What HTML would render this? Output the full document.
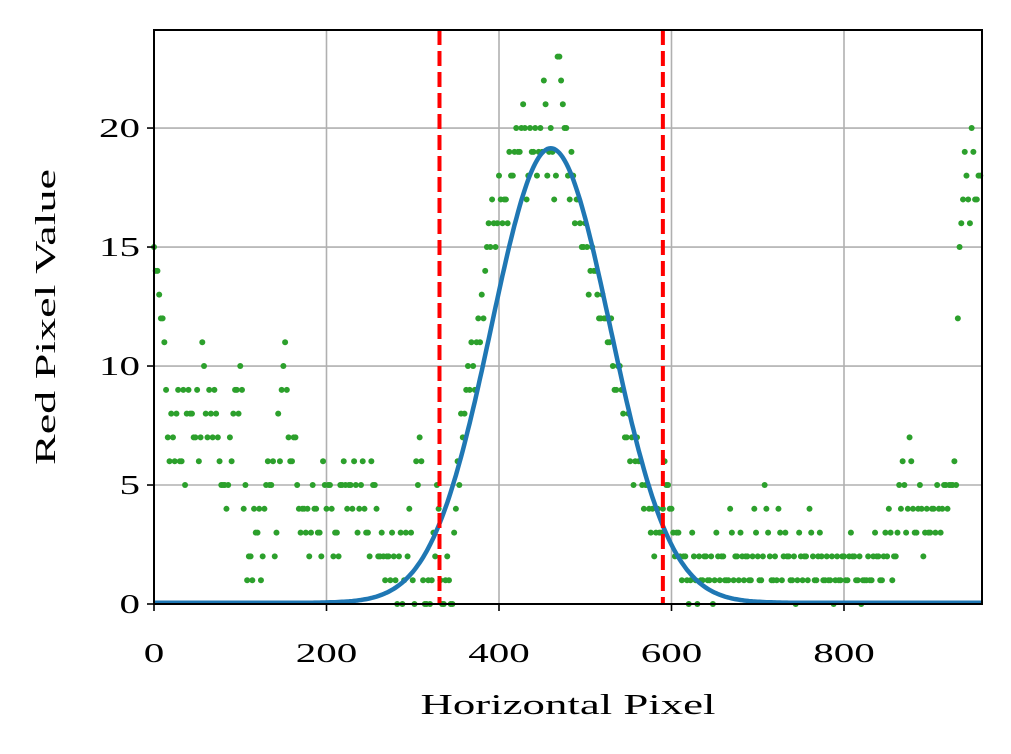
<!DOCTYPE html>
<html><head><meta charset="utf-8"><style>
body{margin:0;background:#fff}
svg{display:block}
text{font-family:"Liberation Serif",serif;fill:#000}
</style></head><body>
<svg id="chart" width="1011" height="754" viewBox="0 0 1011 754" xmlns="http://www.w3.org/2000/svg">
<g id="grid"></g>
<g id="pts"></g>
<g id="lines"></g>
<rect x="154" y="30" width="828" height="574" fill="none" stroke="#000" stroke-width="2"/>
<g id="ticks"></g>
<text x="568" y="714" font-size="28" text-anchor="middle" textLength="295" lengthAdjust="spacingAndGlyphs">Horizontal Pixel</text>
<text transform="translate(55,317) rotate(-90)" font-size="28" text-anchor="middle" textLength="296" lengthAdjust="spacingAndGlyphs">Red Pixel Value</text>
</svg>
<script>
const xTicks=[0,200,400,600,800];
const yTicks=[0,5,10,15,20];
const step=4;
const values=[15,14,12,11,7,8,6,9,6,5, 9,8,7,6,11,8,9,7,8,6, 5,4,7,8,9,10,4,1,2,4, 3,1,4,6,5,2,8,9,11,7,
6,7,4,4,3,2,5,4,3,6, 4,5,2,3,5,6,4,5,6,3, 5,4,3,6,5,2,3,1,2,3, 1,2,0,3,4,1,6,7,1,0,
0,3,5,1,0,2,0,3,6,8, 8,10,11,9,12,13,14,16,17,15, 18,16,17,19,18,20,19,21,17,20, 19,18,20,22,18,20,17,23,22,20,
18,19,16,17,15,16,13,15,14,12, 13,12,11,10,9,10,8,7,6,5, 7,6,4,5,3,2,4,3,6,5, 4,2,3,1,2,0,3,1,2,1,
2,1,0,3,1,2,1,4,1,2, 3,1,2,1,4,2,1,5,3,1, 2,4,1,3,2,1,0,3,1,2, 4,2,1,3,1,2,1,0,2,1,
2,1,3,2,1,0,1,2,1,3, 2,1,3,4,1,2,5,6,3,7, 4,3,5,2,4,3,4,5,3,5, 4,5,6,12,16,19,17,20,17,18];
const values2=[14,13,12,9,6,7,8,6,9,8, 8,7,9,7,10,7,8,9,7,5, 5,5,6,9,8,9,5,2,1,3, 4,2,5,5,6,3,6,10,9,6,
7,5,3,4,4,3,4,3,2,5, 5,4,3,2,5,5,5,4,5,4, 6,3,2,5,4,2,2,2,1,2, 0,3,1,2,3,0,5,6,0,1,
1,2,4,0,1,1,0,4,5,7, 9,9,10,11,11,12,15,15,16,16, 17,17,16,18,19,19,20,20,18,19, 20,19,19,21,19,19,18,23,21,20,
17,18,17,16,15,15,14,14,13,12, 12,11,12,9,10,9,7,8,7,6, 6,5,5,4,4,3,3,4,5,4, 3,3,2,2,1,1,2,0,1,2,
1,2,1,2,2,1,1,3,2,1, 2,2,1,2,3,1,2,4,2,1, 1,3,2,2,1,2,1,2,2,1, 3,1,2,2,1,1,2,1,1,2,
1,2,2,1,2,1,1,1,2,2, 1,2,2,3,2,3,4,5,4,6, 3,4,4,3,3,4,3,4,4,5, 5,5,5,15,17,18,16,19,17,18];
const gaussAmp=19.1, gaussMu=460, gaussSigma=69, gaussOffset=0.05;
const cutLines=[331,590];
const X0=154,X1=982,Y0=604,Y1=30,xmax=960,ymax=24.12;
const sx=v=>X0+v/xmax*(X1-X0), sy=v=>Y0-v/ymax*(Y0-Y1);
const NS="http://www.w3.org/2000/svg";
function mk(tag,attrs,parent){const e=document.createElementNS(NS,tag);for(const k in attrs)e.setAttribute(k,attrs[k]);parent.appendChild(e);return e;}
const grid=document.getElementById('grid'),ticks=document.getElementById('ticks');
xTicks.forEach(t=>{const x=sx(t);
 const g=mk('line',{x1:x,x2:x,y1:Y1,y2:Y0,stroke:'#b0b0b0','stroke-width':1.6},grid);
 
 const tk=mk('line',{x1:x,x2:x,y1:Y0,y2:Y0+7,stroke:'#000','stroke-width':1.6},ticks);
 
 const s=String(t);
 const tx=mk('text',{x:x,y:Y0+58,'font-size':27,'text-anchor':'middle',textLength:s.length*20.5,lengthAdjust:'spacingAndGlyphs'},ticks);tx.textContent=s;
 });
yTicks.forEach(t=>{const y=sy(t);
 const g=mk('line',{x1:X0,x2:X1,y1:y,y2:y,stroke:'#b0b0b0','stroke-width':1.6},grid);
 
 const tk=mk('line',{x1:X0-7,x2:X0,y1:y,y2:y,stroke:'#000','stroke-width':1.6},ticks);
 
 const s=String(t);
 const tx=mk('text',{x:X0-14,y:y+9,'font-size':27,'text-anchor':'end',textLength:s.length*20.5,lengthAdjust:'spacingAndGlyphs'},ticks);tx.textContent=s;
 });
const pts=document.getElementById('pts');
values.forEach((v,i)=>{const c=mk('circle',{cx:sx(i*step),cy:sy(v),r:3,fill:'#2ca02c'},pts);
 });
values2.forEach((v,i)=>{const c=mk('circle',{cx:sx(i*step+2),cy:sy(v),r:3,fill:'#2ca02c'},pts);
 });
const lines=document.getElementById('lines');
let d='';for(let x=0;x<=xmax;x+=2){const y=gaussOffset+gaussAmp*Math.exp(-((x-gaussMu)**2)/(2*gaussSigma**2));d+=(x?'L':'M')+sx(x).toFixed(1)+','+sy(y).toFixed(1);}
const p=mk('path',{d:d,fill:'none',stroke:'#1f77b4','stroke-width':4.5},lines);

cutLines.forEach(v=>{const l=mk('line',{x1:sx(v),x2:sx(v),y1:Y1,y2:Y0,stroke:'#ff0000','stroke-width':4,'stroke-dasharray':'15,6'},lines);
 });
</script>
</body></html>
